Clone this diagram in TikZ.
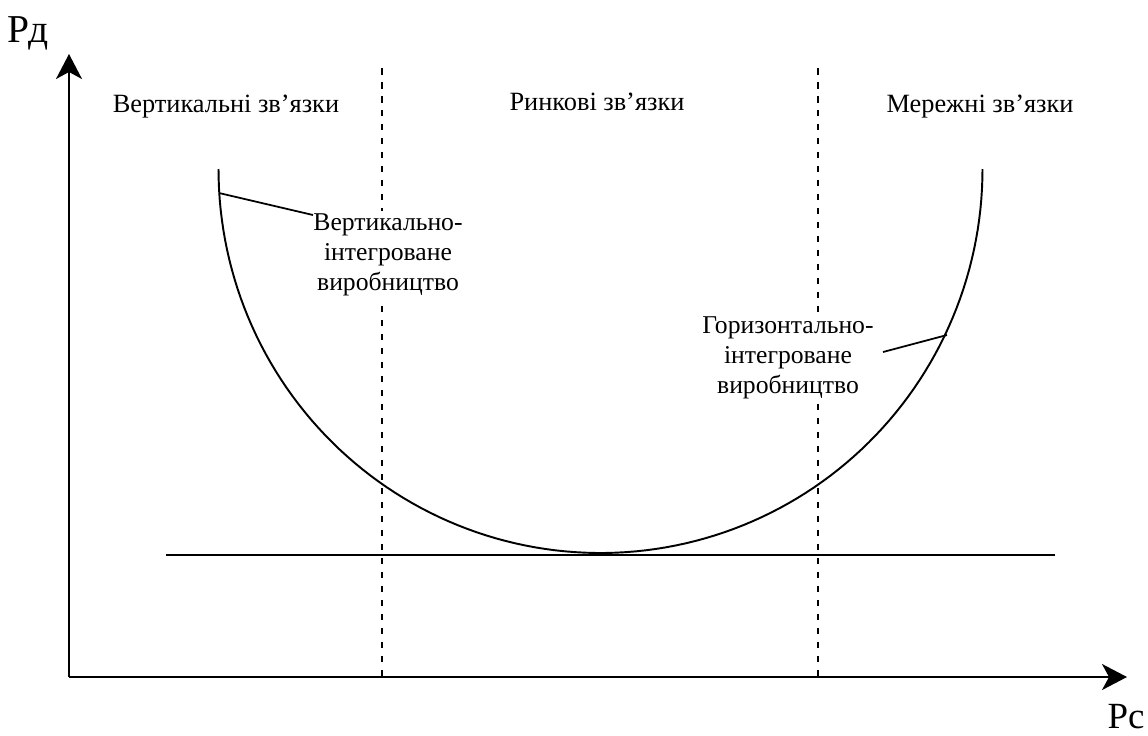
\documentclass[tikz,border=0pt]{standalone}
\usepackage{fontspec}
\setmainfont{Liberation Serif}
\usetikzlibrary{arrows.meta}
\begin{document}
\begin{tikzpicture}[x=0.02cm, y=-0.02cm,
  axis/.style={line width=1.2pt, -{Stealth[length=0.5cm, width=0.52cm, inset=0.14cm]}},
  curve/.style={line width=1.1pt},
  divider/.style={line width=1pt, dash pattern=on 0.13cm off 0.15cm},
  pointer/.style={line width=1pt},
  zone/.style={anchor=base, inner sep=0, font=\fontsize{15}{17}\selectfont},
  tag/.style={align=center, fill=white, inner xsep=1pt, inner ysep=2pt, font=\fontsize{14.6}{17}\selectfont},
  axislabel/.style={anchor=base, inner sep=0}]
\useasboundingbox (0,0) rectangle (1148,735);

% axes
\coordinate (O) at (69,677);
\coordinate (ytip) at (69,54);
\coordinate (xtip) at (1127,677);
\draw[axis] (O) -- (ytip);
\draw[axis] (O) -- (xtip);
\node[axislabel, font=\fontsize{22.5}{24}\selectfont] (pd) at (28,42) {Рд};
\node[axislabel, font=\fontsize{21}{24}\selectfont] (pc) at (1126,728) {Рс};

% zone boundaries
\coordinate (d1top) at (382,68);
\coordinate (d1bot) at (382,677);
\coordinate (d2top) at (818,68);
\coordinate (d2bot) at (818,677);
\draw[divider] (d1top) -- (d1bot);
\draw[divider] (d2top) -- (d2bot);

% zone titles
\node[zone] (zv) at (226,112) {Вертикальні зв’язки};
\node[zone] (zr) at (597,110) {Ринкові зв’язки};
\node[zone] (zm) at (980,112) {Мережні зв’язки};

% cost curve and baseline
\draw[curve] plot[domain=180:360, samples=120] ({600.5+382*cos(\x)}, {169-384*sin(\x)});
\coordinate (h1) at (166,555);
\coordinate (h2) at (1055,555);
\draw[curve] (h1) -- (h2);

% annotations (white boxes hide the dividers behind the text)
\node[tag] (vlab) at (388,255) {Вертикально-\\інтегроване\\виробництво};
\node[tag] (hlab) at (788,358) {Горизонтально-\\інтегроване\\виробництво};
\coordinate (cv) at (219,193);
\coordinate (vend) at (313,215);
\coordinate (ch) at (947,335);
\coordinate (hend) at (883,352);
\draw[pointer] (cv) -- (vend);
\draw[pointer] (ch) -- (hend);
\end{tikzpicture}
\end{document}
